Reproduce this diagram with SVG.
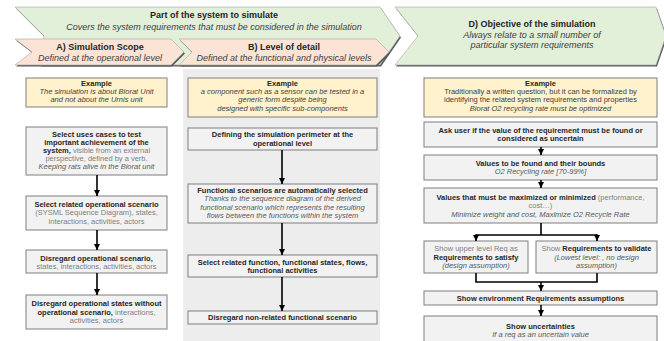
<svg xmlns="http://www.w3.org/2000/svg" width="664" height="341" viewBox="0 0 664 341">
<defs>
<style>
text{font-family:"Liberation Sans",Arial,sans-serif;font-size:7.5px;text-anchor:middle;fill:#262626}
.t{font-size:9px}
.b{font-weight:bold;fill:#262626}
.r{fill:#808080}
.i{font-style:italic;fill:#595959}
.ie{font-style:italic;fill:#404040}
.re{fill:#404040}
.ti{font-style:italic;fill:#404040}
.g{fill:#E2EFD9;stroke:#a6a6a6;stroke-width:0.6}
.p{fill:#FBE4D5;stroke:#a6a6a6;stroke-width:0.6}
.sh{fill:#595959}
.box{fill:#F2F2F2;stroke:#7f7f7f;stroke-width:1}
.ex{fill:#FFF2CC;stroke:#7f7f7f;stroke-width:1}
.c{fill:none;stroke:#000;stroke-width:1.6}
.ca{fill:none;stroke:#000;stroke-width:1.6;marker-end:url(#ah)}
</style>
<marker id="ah" markerUnits="userSpaceOnUse" markerWidth="7" markerHeight="6" refX="6" refY="3" orient="auto">
<path d="M0,0 L6,3 L0,6 z" fill="#000"/>
</marker>
</defs>
<rect width="664" height="341" fill="#fff"/>

<g id="banner-part">
<polygon class="sh" transform="translate(1,1.5)" points="15,7 380,7 400,36 380,65 40,65 44,36"/>
<polygon class="g" points="15,7 380,7 400,36 380,65 40,65 44,36"/>
<text class="t b" x="214" y="18">Part of the system to simulate</text>
<text class="t ti" x="214" y="29.5">Covers the system requirements that must be considered in the simulation</text>
</g>

<g id="banner-d">
<polygon class="sh" transform="translate(1,1.5)" points="395,7 656,7 666,36 656,65 395,65 418,36"/>
<polygon class="g" points="395,7 656,7 666,36 656,65 395,65 418,36"/>
<text class="t b" x="532" y="27">D) Objective of the simulation</text>
<text class="t ti" x="532" y="37.5">Always relate to a small number of</text>
<text class="t ti" x="532" y="48">particular system requirements</text>
</g>

<g id="banner-a">
<polygon class="sh" transform="translate(1,1.5)" points="15,39 171,39 184,52 171,65 15,65 32,52"/>
<polygon class="p" points="15,39 171,39 184,52 171,65 15,65 32,52"/>
<text class="t b" x="100" y="50">A)  Simulation Scope</text>
<text class="t ti" x="100" y="60.5">Defined at the operational level</text>
</g>

<g id="banner-b">
<polygon class="sh" transform="translate(1,1.5)" points="179,39 376,39 389,52 376,65 179,65 192,52"/>
<polygon class="p" points="179,39 376,39 389,52 376,65 179,65 192,52"/>
<text class="t b" x="284" y="50">B) Level of detail</text>
<text class="t ti" x="284" y="60.5">Defined at the functional and physical levels</text>
</g>

<g id="panel-b">
<rect x="183" y="69" width="197" height="272" fill="#EDEDED"/>
</g>

<!-- Column A -->
<g id="a-example">
<rect class="ex" x="26" y="78" width="141" height="29"/>
<text class="b" x="96.5" y="85.5">Example</text>
<text class="ie" x="96.5" y="93.5">The simulation is about Biorat Unit</text>
<text class="ie" x="96.5" y="102">and not about the Urnis unit</text>
</g>
<g id="a-usecases">
<rect class="box" x="26" y="127" width="141" height="48"/>
<text class="b" x="96.5" y="136.5">Select uses cases to test</text>
<text class="b" x="96.5" y="144.7">important achievement of the</text>
<text x="96.5" y="152.9"><tspan class="b">system,</tspan><tspan class="r"> visible from an external</tspan></text>
<text class="r" x="96.5" y="161.1">perspective, defined by a verb.</text>
<text class="i" x="96.5" y="169.3">Keeping rats alive in the Biorat unit</text>
</g>
<g id="a-opscenario">
<rect class="box" x="26" y="196" width="141" height="34"/>
<text class="b" x="96.5" y="206.6">Select related operational scenario</text>
<text class="r" x="96.5" y="215.1">(SYSML Sequence Diagram), states,</text>
<text class="r" x="96.5" y="223.6">interactions, activities, actors</text>
</g>
<g id="a-disregard-scenario">
<rect class="box" x="26" y="250" width="141" height="23"/>
<text class="b" x="96.5" y="260.5">Disregard operational scenario,</text>
<text class="r" x="96.5" y="269">states, interactions, activities, actors</text>
</g>
<g id="a-disregard-states">
<rect class="box" x="26" y="295" width="141" height="34"/>
<text class="b" x="96.5" y="306">Disregard operational states without</text>
<text x="96.5" y="314.5"><tspan class="b">operational scenario,</tspan><tspan class="r"> interactions,</tspan></text>
<text class="r" x="96.5" y="323">activities, actors</text>
</g>

<!-- Column B -->
<g id="b-example">
<rect class="ex" x="188" y="78" width="189" height="39"/>
<text class="b" x="282.5" y="85.5">Example</text>
<text class="ie" x="282.5" y="93.5">a component such as a sensor can be tested in a</text>
<text class="ie" x="282.5" y="102">generic form despite being</text>
<text class="ie" x="282.5" y="110.5">designed with specific sub-components</text>
</g>
<g id="b-perimeter">
<rect class="box" x="188" y="128" width="189" height="22"/>
<text class="b" x="282.5" y="137">Defining the simulation perimeter at the</text>
<text class="b" x="282.5" y="145.5">operational level</text>
</g>
<g id="b-funcscenarios">
<rect class="box" x="188" y="184" width="189" height="39"/>
<text class="b" x="282.5" y="192.6">Functional scenarios are automatically selected</text>
<text class="i" x="282.5" y="201.1">Thanks to the sequence diagram of the derived</text>
<text class="i" x="282.5" y="209.6">functional scenario which represents the resulting</text>
<text class="i" x="282.5" y="218.1">flows between the functions within the system</text>
</g>
<g id="b-selectfunc">
<rect class="box" x="188" y="255" width="189" height="22"/>
<text class="b" x="282.5" y="264.5">Select related function, functional states, flows,</text>
<text class="b" x="282.5" y="273">functional activities</text>
</g>
<g id="b-disregard">
<rect class="box" x="188" y="311" width="189" height="13"/>
<text class="b" x="282.5" y="320.2">Disregard non-related functional scenario</text>
</g>

<!-- Column D -->
<g id="d-example">
<rect class="ex" x="424" y="78" width="233" height="39"/>
<text class="b" x="540.5" y="85.5">Example</text>
<text class="re" x="540.5" y="93.5">Traditionally a written question, but it can be formalized by</text>
<text class="re" x="540.5" y="102">identifying the related system requirements and properties</text>
<text class="ie" x="540.5" y="110.5">Biorat O2 recycling rate must be optimized</text>
</g>
<g id="d-askuser">
<rect class="box" x="424" y="122" width="233" height="25"/>
<text class="b" x="540.5" y="132.8">Ask user if the value of the requirement must be found or</text>
<text class="b" x="540.5" y="141.3">considered as uncertain</text>
</g>
<g id="d-values">
<rect class="box" x="424" y="155" width="233" height="25"/>
<text class="b" x="540.5" y="165.6">Values to be found and their bounds</text>
<text class="i" x="540.5" y="174.1">O2 Recycling rate [70-99%]</text>
</g>
<g id="d-maxmin">
<rect class="box" x="424" y="188" width="233" height="35"/>
<text x="540.5" y="199.6"><tspan class="b">Values that must be maximized or minimized</tspan><tspan class="r"> (performance,</tspan></text>
<text class="r" x="540.5" y="208.3">cost…)</text>
<text class="i" x="540.5" y="217">Minimize weight and cost, Maximize O2 Recycle Rate</text>
</g>
<g id="d-satisfy">
<rect class="box" x="424" y="241" width="104" height="32"/>
<text class="r" x="476" y="251">Show upper level Req as</text>
<text class="b" x="476" y="259.5">Requirements to satisfy</text>
<text class="i" x="476" y="268">(design assumption)</text>
</g>
<g id="d-validate">
<rect class="box" x="536" y="241" width="121" height="32"/>
<text x="596.5" y="251"><tspan class="r">Show </tspan><tspan class="b">Requirements to validate</tspan></text>
<text class="i" x="596.5" y="259.5">(Lowest level: , no design</text>
<text class="i" x="596.5" y="268">assumption)</text>
</g>
<g id="d-environment">
<rect class="box" x="424" y="291" width="233" height="14"/>
<text class="b" x="540.5" y="300.6">Show environment Requirements assumptions</text>
</g>
<g id="d-uncertainties">
<rect class="box" x="424" y="316" width="233" height="30"/>
<text class="b" x="540.5" y="328.6">Show uncertainties</text>
<text class="i" x="540.5" y="337.3">If  a req as an uncertain value</text>
</g>

<g id="connectors">
<path class="ca" d="M97,175 V196"/>
<path class="ca" d="M97,230 V250"/>
<path class="ca" d="M97,273 V295"/>
<path class="ca" d="M282,150 V184"/>
<path class="ca" d="M282,223 V255"/>
<path class="ca" d="M282,277 V311"/>
<path class="ca" d="M541,147 V155"/>
<path class="ca" d="M541,180 V188"/>
<path class="c" d="M541,223 V235 M476,235 H597"/>
<path class="ca" d="M476,234.2 V241"/>
<path class="ca" d="M597,234.2 V241"/>
<path class="c" d="M476,273 V282 H597 V273"/>
<path class="ca" d="M541,282 V291"/>
<path class="ca" d="M541,305 V316"/>
</g>
</svg>
